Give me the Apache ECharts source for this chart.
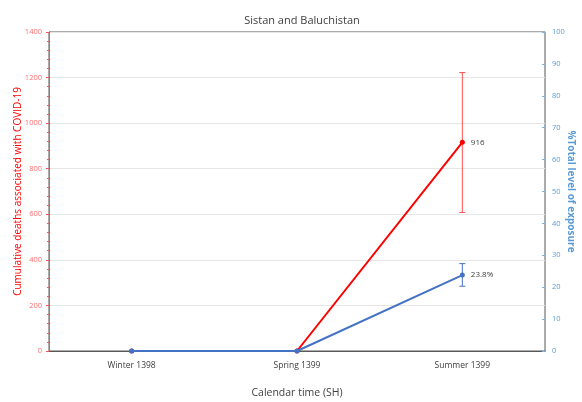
<!DOCTYPE html>
<html>
<head>
<meta charset="utf-8">
<script src="https://cdn.jsdelivr.net/npm/echarts@6/dist/echarts.min.js"></script>
<style>
  html, body { margin: 0; padding: 0; background: #fff; }
  #chart { width: 582px; height: 402px; }
</style>
</head>
<body>
<div id="chart"></div>
<script>
// values
const categories = ["Winter 1398", "Spring 1399", "Summer 1399"];
const deaths = [0, 0, 916];
const deathsLow = [null, null, 608];
const deathsHigh = [null, null, 1222];
const exposure = [0, 0, 23.8];
const exposureLow = [null, null, 20.3];
const exposureHigh = [null, null, 27.4];

const red = "#ff0000";
const blue = "#4472c4";
const font = "Open Sans";

function errorBar(low, high, color, yAxisIndex) {
    return {
        type: "custom",
        yAxisIndex: yAxisIndex,
        silent: true,
        z: 1,
        data: categories.map((c, i) => [i, low[i], high[i]]),
        renderItem: function (params, api) {
            if (api.value(1) === null || isNaN(api.value(1))) return;
            const lo = api.coord([api.value(0), api.value(1)]);
            const hi = api.coord([api.value(0), api.value(2)]);
            const w = 3;
            const style = { stroke: color, lineWidth: 1 };
            return {
                type: "group",
                children: [
                    { type: "line", shape: { x1: hi[0], y1: hi[1], x2: lo[0], y2: lo[1] }, style: style },
                    { type: "line", shape: { x1: hi[0] - w, y1: hi[1], x2: hi[0] + w, y2: hi[1] }, style: style },
                    { type: "line", shape: { x1: lo[0] - w, y1: lo[1], x2: lo[0] + w, y2: lo[1] }, style: style },
                ],
            };
        },
    };
}

const chart = echarts.init(document.getElementById("chart"));
chart.setOption({
    animation: false,
    title: {
        text: "Sistan and Baluchistan",
        left: 297,
        textAlign: "center",
        top: 10,
        textStyle: { fontFamily: font, fontSize: 11, fontWeight: "normal", color: "#404040" },
    },
    grid: {
        left: 49,
        right: 37,
        top: 32,
        bottom: 51,
        outerBoundsMode: "none",
        containLabel: false,
        show: true,
        borderColor: "#595959",
        borderWidth: 1,
    },
    xAxis: {
        type: "category",
        data: categories,
        name: "Calendar time (SH)",
        nameLocation: "middle",
        nameGap: 37,
        nameTextStyle: { fontFamily: font, fontSize: 10.5, color: "#404040" },
        axisLine: { lineStyle: { color: "#595959" } },
        axisTick: { show: false },
        axisLabel: { fontFamily: font, fontSize: 8.5, color: "#404040", margin: 10 },
    },
    yAxis: [
        {
            type: "value",
            min: 0,
            max: 1400,
            interval: 200,
            name: "Cumulative deaths associated with COVID-19",
            nameLocation: "middle",
            nameGap: 26,
            nameMoveOverlap: false,
            nameTextStyle: { fontFamily: font, fontSize: 10, color: red },
            axisLine: { show: true, lineStyle: { color: "#ff5050" } },
            axisTick: { show: true, length: 3, lineStyle: { color: "#ff5050" } },
            minorTick: { show: true, splitNumber: 5, length: 2, lineStyle: { color: "#ff5050" } },
            axisLabel: { fontFamily: font, fontSize: 7.5, color: "#ff7070", margin: 7, formatter: (v) => String(v) },
            splitLine: { lineStyle: { color: "#e6e6e6" } },
        },
        {
            type: "value",
            min: 0,
            max: 100,
            interval: 10,
            position: "right",
            name: "%Total level of exposure",
            nameLocation: "middle",
            nameGap: 21,
            nameMoveOverlap: false,
            nameRotate: -90,
            nameTextStyle: { fontFamily: font, fontSize: 10, color: "#5b9bd5", fontWeight: "bold" },
            axisLine: { show: true, lineStyle: { color: "#7fb2e0" } },
            axisTick: { show: true, inside: true, length: 3, lineStyle: { color: "#7fb2e0" } },
            axisLabel: { fontFamily: font, fontSize: 7.5, color: "#5b9bd5", margin: 7 },
            splitLine: { show: false },
        },
    ],
    series: [
        errorBar(deathsLow, deathsHigh, "#ff5050", 0),
        errorBar(exposureLow, exposureHigh, blue, 1),
        {
            type: "line",
            yAxisIndex: 0,
            data: deaths,
            symbol: "circle",
            symbolSize: 5,
            z: 2,
            lineStyle: { color: red, width: 2 },
            itemStyle: { color: red },
            label: {
                show: true,
                position: "right",
                distance: 6,
                fontFamily: font,
                fontSize: 8,
                color: "#404040",
                formatter: (p) => (p.dataIndex === 2 ? p.value : ""),
            },
        },
        {
            type: "line",
            yAxisIndex: 1,
            data: exposure,
            symbol: "circle",
            symbolSize: 5,
            z: 3,
            lineStyle: { color: blue, width: 2 },
            itemStyle: { color: blue },
            label: {
                show: true,
                position: "right",
                distance: 6,
                fontFamily: font,
                fontSize: 8,
                color: "#404040",
                formatter: (p) => (p.dataIndex === 2 ? p.value + "%" : ""),
            },
        },
    ],
});
</script>
</body>
</html>
